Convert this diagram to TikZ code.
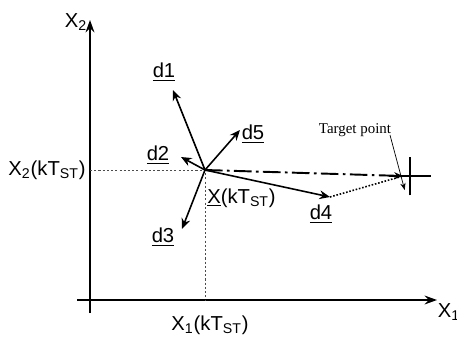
\documentclass[tikz,border=0pt]{standalone}
\usepackage{fontspec}
\setmainfont{Liberation Sans}
\newfontfamily\tgtfont{Liberation Serif}
\usepackage{tikz}
\usetikzlibrary{positioning,arrows.meta}
\newcommand{\kst}{(kT\textsubscript{ST})}

\begin{document}
\begin{tikzpicture}[x=0.02cm, y=-0.02cm, >=Stealth,
		axis/.style={line width=1.1pt, -{Stealth[length=7pt,width=5pt]}},
		dir/.style={line width=0.9pt, -{Stealth[length=6pt,width=5pt]}},
		guide/.style={dash pattern=on 1.2pt off 1.2pt, line width=0.5pt, black!70},
		lbl/.style={font=\fontsize{11.5}{12}\selectfont, inner sep=0pt}]
			\useasboundingbox (0,0) rectangle (457,338);

			\coordinate (o1) at (77,300);
			\coordinate (e1) at (437,300);
			\coordinate (o2) at (90,313);
			\coordinate (e2) at (90,20);
			\coordinate (X) at (205,170);
			\coordinate (h) at (90,170);
			\coordinate (v) at (205,300);
			\coordinate (t1) at (173,90);
			\coordinate (t2) at (181,157);
			\coordinate (t3) at (182,229);
			\coordinate (t4) at (330,197);
			\coordinate (t5) at (240,130);
			\coordinate (tgt) at (410,176);
			\coordinate (tl) at (390,135);

			% axes and projections
			\draw[axis] (o1) -- (e1);
			\draw[axis] (o2) -- (e2);
			\draw[guide] (h) -- (X) -- (v);

			\node[lbl] (ax1) at (449,312) {X\textsubscript{1}};
			\node[lbl] (ax2) at (76,22) {X\textsubscript{2}};
			\node[lbl] (p2) at (47,170) {X\textsubscript{2}\kst};
			\node[lbl] (p1) at (210,325) {X\textsubscript{1}\kst};
			\node[lbl, anchor=west] (px) at (207,198) {\underline{X}\kst};

			% search directions
			\draw[dir] (X) -- (t1);
			\draw[dir] (X) -- (t2);
			\draw[dir] (X) -- (t3);
			\draw[dir] (X) -- (t4);
			\draw[dir] (X) -- (t5);
			\node[lbl] (d1) at (164,72) {\underline{d1}};
			\node[lbl] (d2) at (158,155) {\underline{d2}};
			\node[lbl] (d3) at (163,237) {\underline{d3}};
			\node[lbl] (d4) at (321,214) {\underline{d4}};
			\node[lbl] (d5) at (253,134) {\underline{d5}};

			% target
			\draw[line width=0.8pt] ([xshift=-12]tgt) -- ([xshift=12]tgt)
				([yshift=-11]tgt) -- ([yshift=11]tgt);
			\draw[line width=1.1pt, -{Stealth[length=5pt,width=4pt]},
				dash pattern=on 10pt off 2.5pt on 1.5pt off 2.5pt] (X) -- ([xshift=-4]tgt);
			\draw[densely dotted, line width=0.9pt] (t4) -- ([xshift=-4]tgt);
			\node[font=\tgtfont\fontsize{8.5}{9}\selectfont, inner sep=0pt] (tlab) at (355,130) {Target point};
			\draw[line width=0.4pt, -{Stealth[length=4pt,width=3pt]}] (tl) -- ([xshift=-3,yshift=-8]tgt);
		\end{tikzpicture}
\end{document}
